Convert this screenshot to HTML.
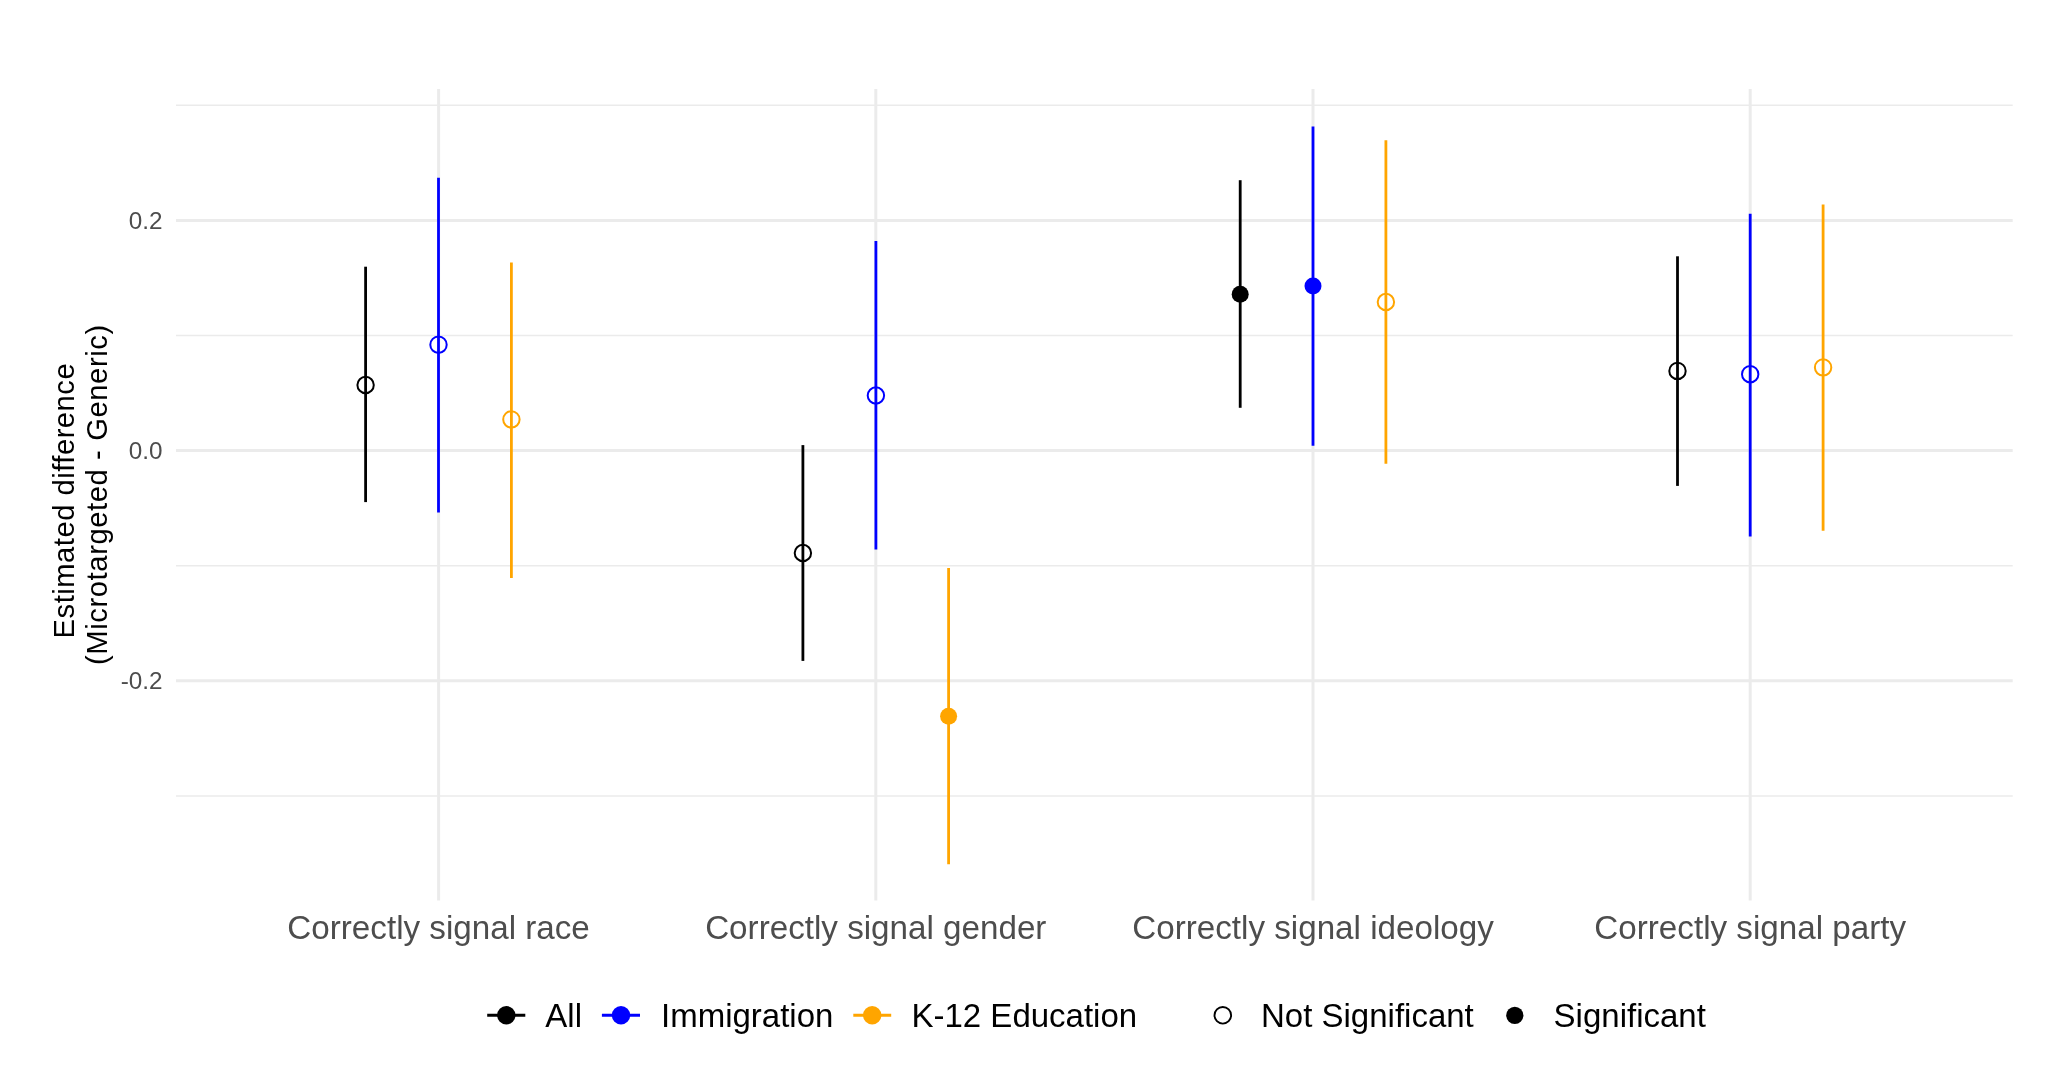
<!DOCTYPE html>
<html><head><meta charset="utf-8"><title>Estimated difference chart</title>
<style>html,body{margin:0;padding:0;background:#fff;}body{width:2047px;height:1077px;overflow:hidden;}svg{display:block;}text{font-family:"Liberation Sans",Arial,Helvetica,sans-serif;}svg{will-change:transform;}</style></head><body>
<svg width="2047" height="1077" viewBox="0 0 2047 1077">
<rect width="2047" height="1077" fill="#fff"/>
<line x1="176.0" y1="105.30" x2="2012.7" y2="105.30" stroke="#EBEBEB" stroke-width="1.5"/>
<line x1="176.0" y1="335.50" x2="2012.7" y2="335.50" stroke="#EBEBEB" stroke-width="1.5"/>
<line x1="176.0" y1="565.70" x2="2012.7" y2="565.70" stroke="#EBEBEB" stroke-width="1.5"/>
<line x1="176.0" y1="795.90" x2="2012.7" y2="795.90" stroke="#EBEBEB" stroke-width="1.5"/>
<line x1="176.0" y1="220.40" x2="2012.7" y2="220.40" stroke="#EBEBEB" stroke-width="3"/>
<line x1="176.0" y1="450.60" x2="2012.7" y2="450.60" stroke="#EBEBEB" stroke-width="3"/>
<line x1="176.0" y1="680.80" x2="2012.7" y2="680.80" stroke="#EBEBEB" stroke-width="3"/>
<line x1="438.60" y1="89.0" x2="438.60" y2="900.5" stroke="#EBEBEB" stroke-width="3"/>
<line x1="875.80" y1="89.0" x2="875.80" y2="900.5" stroke="#EBEBEB" stroke-width="3"/>
<line x1="1313.00" y1="89.0" x2="1313.00" y2="900.5" stroke="#EBEBEB" stroke-width="3"/>
<line x1="1750.20" y1="89.0" x2="1750.20" y2="900.5" stroke="#EBEBEB" stroke-width="3"/>
<text x="162.6" y="229.00" font-size="24.3" fill="#4D4D4D" text-anchor="end">0.2</text>
<text x="162.6" y="459.20" font-size="24.3" fill="#4D4D4D" text-anchor="end">0.0</text>
<text x="162.6" y="689.40" font-size="24.3" fill="#4D4D4D" text-anchor="end">-0.2</text>
<text x="438.60" y="939.1" font-size="33.2" fill="#4D4D4D" text-anchor="middle">Correctly signal race</text>
<text x="875.80" y="939.1" font-size="33.2" fill="#4D4D4D" text-anchor="middle">Correctly signal gender</text>
<text x="1313.00" y="939.1" font-size="33.2" fill="#4D4D4D" text-anchor="middle">Correctly signal ideology</text>
<text x="1750.20" y="939.1" font-size="33.2" fill="#4D4D4D" text-anchor="middle">Correctly signal party</text>
<text transform="translate(74.4,638.4) rotate(-90)" font-size="29.2" letter-spacing="0.5" fill="#000">Estimated difference</text>
<text transform="translate(106.9,665.0) rotate(-90)" font-size="29.2" letter-spacing="0.59" fill="#000">(Microtargeted - Generic)</text>
<line x1="365.6" y1="266.7" x2="365.6" y2="502.1" stroke="#000000" stroke-width="2.8"/>
<line x1="438.5" y1="177.8" x2="438.5" y2="512.5" stroke="#0000FF" stroke-width="2.8"/>
<line x1="511.4" y1="262.6" x2="511.4" y2="578.1" stroke="#FFA500" stroke-width="2.8"/>
<line x1="802.9" y1="445.1" x2="802.9" y2="660.9" stroke="#000000" stroke-width="2.8"/>
<line x1="875.9" y1="241.1" x2="875.9" y2="549.5" stroke="#0000FF" stroke-width="2.8"/>
<line x1="948.6" y1="568.1" x2="948.6" y2="864.3" stroke="#FFA500" stroke-width="2.8"/>
<line x1="1240.2" y1="180.2" x2="1240.2" y2="407.8" stroke="#000000" stroke-width="2.8"/>
<line x1="1313.0" y1="126.6" x2="1313.0" y2="445.7" stroke="#0000FF" stroke-width="2.8"/>
<line x1="1385.9" y1="140.2" x2="1385.9" y2="463.7" stroke="#FFA500" stroke-width="2.8"/>
<line x1="1677.5" y1="256.3" x2="1677.5" y2="485.9" stroke="#000000" stroke-width="2.8"/>
<line x1="1750.2" y1="213.8" x2="1750.2" y2="536.4" stroke="#0000FF" stroke-width="2.8"/>
<line x1="1823.1" y1="204.6" x2="1823.1" y2="530.8" stroke="#FFA500" stroke-width="2.8"/>
<circle cx="365.6" cy="385.0" r="8.2" fill="none" stroke="#000000" stroke-width="2"/>
<circle cx="438.5" cy="344.7" r="8.2" fill="none" stroke="#0000FF" stroke-width="2"/>
<circle cx="511.4" cy="419.4" r="8.2" fill="none" stroke="#FFA500" stroke-width="2"/>
<circle cx="802.9" cy="553.0" r="8.2" fill="none" stroke="#000000" stroke-width="2"/>
<circle cx="875.9" cy="395.5" r="8.2" fill="none" stroke="#0000FF" stroke-width="2"/>
<circle cx="948.6" cy="716.2" r="8.5" fill="#FFA500"/>
<circle cx="1240.2" cy="294.2" r="8.5" fill="#000000"/>
<circle cx="1313.0" cy="286.0" r="8.5" fill="#0000FF"/>
<circle cx="1385.9" cy="302.0" r="8.2" fill="none" stroke="#FFA500" stroke-width="2"/>
<circle cx="1677.5" cy="370.9" r="8.2" fill="none" stroke="#000000" stroke-width="2"/>
<circle cx="1750.2" cy="374.2" r="8.2" fill="none" stroke="#0000FF" stroke-width="2"/>
<circle cx="1823.1" cy="367.4" r="8.2" fill="none" stroke="#FFA500" stroke-width="2"/>
<line x1="487.2" y1="1015.3" x2="525.3" y2="1015.3" stroke="#000000" stroke-width="3"/>
<circle cx="506.3" cy="1015.3" r="9.2" fill="#000000"/>
<line x1="601.9" y1="1015.3" x2="640.0" y2="1015.3" stroke="#0000FF" stroke-width="3"/>
<circle cx="621.0" cy="1015.3" r="9.2" fill="#0000FF"/>
<line x1="853.3" y1="1015.3" x2="891.2" y2="1015.3" stroke="#FFA500" stroke-width="3"/>
<circle cx="872.2" cy="1015.3" r="9.2" fill="#FFA500"/>
<circle cx="1222.8" cy="1015.3" r="8.3" fill="none" stroke="#000" stroke-width="1.9"/>
<circle cx="1514.8" cy="1015.3" r="8.6" fill="#000"/>
<text x="545.3" y="1027.3" font-size="33" fill="#000">All</text>
<text x="661.0" y="1027.3" font-size="33" fill="#000">Immigration</text>
<text x="911.5" y="1027.3" font-size="33" fill="#000">K-12 Education</text>
<text x="1261.0" y="1027.3" font-size="33" fill="#000">Not Significant</text>
<text x="1553.6" y="1027.3" font-size="33" fill="#000">Significant</text>
</svg>
</body></html>
